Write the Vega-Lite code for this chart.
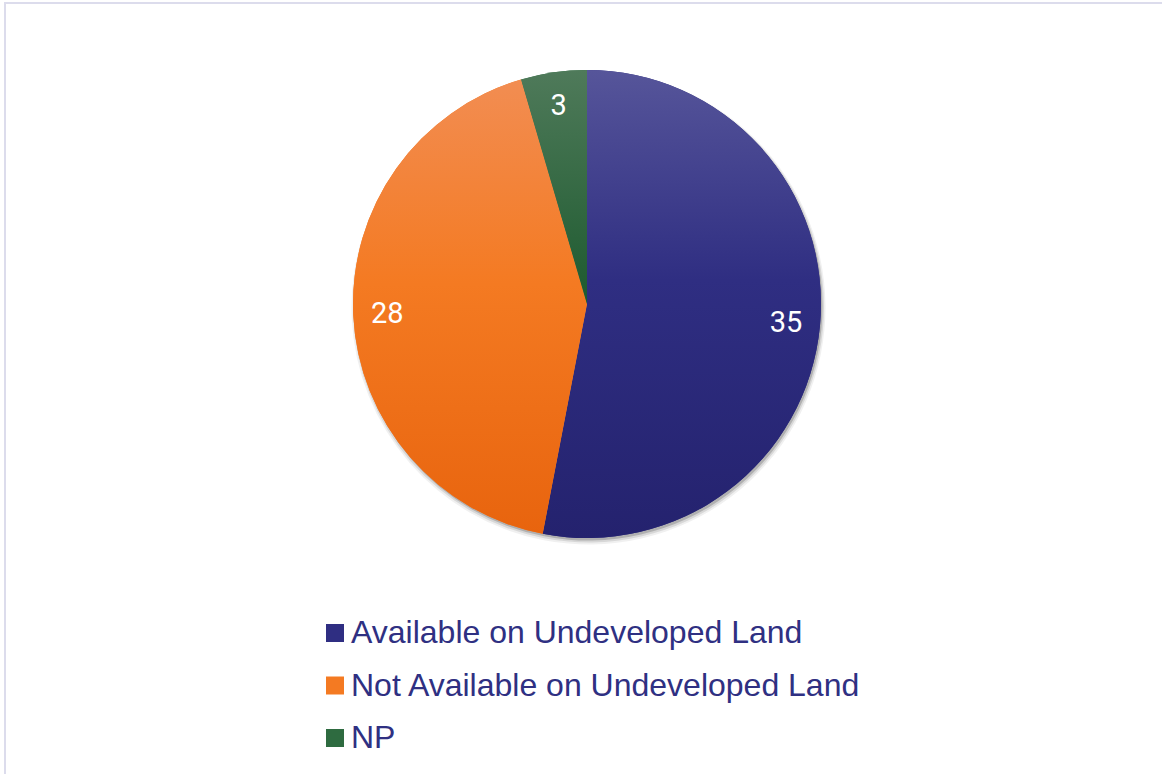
{
  "$schema": "https://vega.github.io/schema/vega-lite/v6.json",
  "autosize": "none",
  "padding": {"left": 5, "top": 3, "right": -10, "bottom": -10},
  "width": 1167,
  "height": 781,
  "background": "#FFFFFF",
  "config": {
    "view": {"stroke": null}
  },
  "data": {
    "values": [
      {"category": "Available on Undeveloped Land", "count": 35, "rank": 1},
      {"category": "Not Available on Undeveloped Land", "count": 28, "rank": 2},
      {"category": "NP", "count": 3, "rank": 3}
    ]
  },
  "transform": [
    {"stack": "count", "groupby": [], "sort": [{"field": "rank", "order": "ascending"}], "as": ["t0", "t1"]}
  ],
  "layer": [
    {
      "data": {"values": [{}]},
      "transform": [],
      "mark": {"type": "rect", "filled": false, "stroke": "#DCDCEC", "strokeWidth": 2},
      "encoding": {}
    },
    {
      "mark": {"type": "arc", "outerRadius": 237, "xOffset": 0, "yOffset": -86, "stroke": null, "color": "#000000", "opacity": 0.06},
      "encoding": {
        "theta": {"field": "t0", "type": "quantitative"},
        "theta2": {"field": "t1"}
      }
    },
    {
      "mark": {"type": "arc", "outerRadius": 235.5, "xOffset": 0, "yOffset": -86.5, "stroke": null, "color": "#000000", "opacity": 0.1},
      "encoding": {
        "theta": {"field": "t0", "type": "quantitative"},
        "theta2": {"field": "t1"}
      }
    },
    {
      "mark": {"type": "arc", "outerRadius": 234, "xOffset": 0, "yOffset": -87, "stroke": null, "color": "#000000", "opacity": 0.18},
      "encoding": {
        "theta": {"field": "t0", "type": "quantitative"},
        "theta2": {"field": "t1"}
      }
    },
    {
      "mark": {"type": "arc", "outerRadius": 234, "xOffset": -1.5, "yOffset": -89.5, "stroke": null},
      "encoding": {
        "theta": {"field": "t0", "type": "quantitative"},
        "theta2": {"field": "t1"},
        "color": {
          "field": "category",
          "type": "nominal",
          "scale": {
            "domain": ["Available on Undeveloped Land", "Not Available on Undeveloped Land", "NP"],
            "range": ["#2F2E82", "#F47A22", "#2E6B40"]
          },
          "legend": {
            "orient": "none",
            "legendX": 314,
            "legendY": 614,
            "title": null,
            "padding": 0,
            "symbolType": "square",
            "symbolSize": 324,
            "symbolStrokeWidth": 0,
            "symbolOpacity": 1,
            "labelFont": "Liberation Sans",
            "labelFontSize": 32,
            "labelColor": "#2F3082",
            "labelOffset": 0,
            "labelLimit": 800,
            "rowPadding": 20.5
          }
        }
      }
    },
    {
      "transform": [{"filter": "datum.category === 'Available on Undeveloped Land'"}],
      "mark": {"type": "arc", "outerRadius": 234, "xOffset": -1.5, "yOffset": -89.5, "stroke": null,
        "color": {"gradient": "linear", "x1": 0, "y1": 0, "x2": 0, "y2": 1, "stops": [{"offset": 0, "color": "#56559A"}, {"offset": 0.45, "color": "#2F2E82"}, {"offset": 1, "color": "#24226E"}]}},
      "encoding": {
        "theta": {"field": "t0", "type": "quantitative"},
        "theta2": {"field": "t1"}
      }
    },
    {
      "transform": [{"filter": "datum.category === 'Not Available on Undeveloped Land'"}],
      "mark": {"type": "arc", "outerRadius": 234, "xOffset": -1.5, "yOffset": -89.5, "stroke": null,
        "color": {"gradient": "linear", "x1": 0, "y1": 0, "x2": 0, "y2": 1, "stops": [{"offset": 0, "color": "#F28D52"}, {"offset": 0.45, "color": "#F47A22"}, {"offset": 1, "color": "#E8640E"}]}},
      "encoding": {
        "theta": {"field": "t0", "type": "quantitative"},
        "theta2": {"field": "t1"}
      }
    },
    {
      "transform": [{"filter": "datum.category === 'NP'"}],
      "mark": {"type": "arc", "outerRadius": 234, "xOffset": -1.5, "yOffset": -89.5, "stroke": null,
        "color": {"gradient": "linear", "x1": 0, "y1": 0, "x2": 0, "y2": 1, "stops": [{"offset": 0, "color": "#4F7A5A"}, {"offset": 1, "color": "#1D5A2F"}]}},
      "encoding": {
        "theta": {"field": "t0", "type": "quantitative"},
        "theta2": {"field": "t1"}
      }
    },
    {
      "mark": {"type": "text", "radius": 200, "xOffset": -1.5, "yOffset": -89.5, "font": "Roboto", "fontSize": 29, "baseline": "middle", "align": "center", "color": "#FFFFFF"},
      "encoding": {
        "theta": {"field": "count", "type": "quantitative", "stack": true},
        "order": {"field": "rank", "type": "quantitative"},
        "text": {"field": "count", "type": "quantitative"}
      }
    }
  ]
}
